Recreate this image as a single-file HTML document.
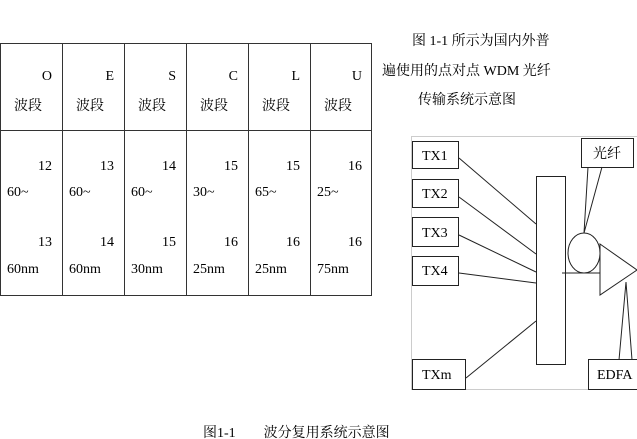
<!DOCTYPE html>
<html><head><meta charset="utf-8"><style>
html,body{margin:0;padding:0;background:#fff;width:637px;height:439px;overflow:hidden}
svg{display:block}
text{font-family:"Liberation Serif","Noto Serif CJK SC","Noto Sans CJK SC",serif;font-size:14px;fill:#000}
</style></head><body>
<svg width="637" height="439" viewBox="0 0 637 439">
<g stroke="#333" stroke-width="1" fill="none">
<rect x="0.5" y="43.5" width="371" height="252"/>
<line x1="0" y1="130.5" x2="372" y2="130.5"/>
<line x1="62.5" y1="43" x2="62.5" y2="295"/>
<line x1="124.5" y1="43" x2="124.5" y2="295"/>
<line x1="186.5" y1="43" x2="186.5" y2="295"/>
<line x1="248.5" y1="43" x2="248.5" y2="295"/>
<line x1="310.5" y1="43" x2="310.5" y2="295"/>
</g>
<g text-anchor="end">
<text x="52" y="80">O</text><text x="114" y="80">E</text><text x="176" y="80">S</text><text x="238" y="80">C</text><text x="300" y="80">L</text><text x="362" y="80">U</text>
<text x="52" y="170">12</text><text x="114" y="170">13</text><text x="176" y="170">14</text><text x="238" y="170">15</text><text x="300" y="170">15</text><text x="362" y="170">16</text>
<text x="52" y="246">13</text><text x="114" y="246">14</text><text x="176" y="246">15</text><text x="238" y="246">16</text><text x="300" y="246">16</text><text x="362" y="246">16</text>
</g>
<g>
<text x="14" y="110">波段</text><text x="76" y="110">波段</text><text x="138" y="110">波段</text><text x="200" y="110">波段</text><text x="262" y="110">波段</text><text x="324" y="110">波段</text>
<text x="7" y="196">60~</text><text x="69" y="196">60~</text><text x="131" y="196">60~</text><text x="193" y="196">30~</text><text x="255" y="196">65~</text><text x="317" y="196">25~</text>
<text x="7" y="273">60nm</text><text x="69" y="273">60nm</text><text x="131" y="273">30nm</text><text x="193" y="273">25nm</text><text x="255" y="273">25nm</text><text x="317" y="273">75nm</text>
</g>
<text x="412" y="45">图 1-1 所示为国内外普</text>
<text x="382" y="75">遍使用的点对点 WDM 光纤</text>
<text x="418" y="104">传输系统示意图</text>
<text x="203" y="437">图1-1　　波分复用系统示意图</text>
<g stroke="#999" stroke-width="1" stroke-dasharray="1,1" fill="none">
<rect x="411.5" y="136.5" width="230" height="253"/>
</g>
<g stroke="#222" stroke-width="1" fill="#fff">
<rect x="412.5" y="141.5" width="46" height="27"/>
<rect x="412.5" y="179.5" width="46" height="28"/>
<rect x="412.5" y="217.5" width="46" height="29"/>
<rect x="412.5" y="256.5" width="46" height="29"/>
<rect x="412.5" y="359.5" width="53" height="30"/>
<rect x="536.5" y="176.5" width="29" height="188"/>
<line x1="459" y1="158" x2="536" y2="224"/>
<line x1="459" y1="197" x2="536" y2="254"/>
<line x1="459" y1="235" x2="536" y2="272"/>
<line x1="459" y1="273" x2="536" y2="283"/>
<line x1="466" y1="378" x2="536" y2="321"/>
<ellipse cx="584" cy="253" rx="16" ry="20"/>
<line x1="562" y1="273" x2="600" y2="273"/>
<polygon points="600,244 637,270 600,295"/>
<rect x="581.5" y="138.5" width="52" height="29"/>
<polyline points="588,167 584,233 602,167" fill="none"/>
<rect x="588.5" y="359.5" width="52" height="30"/>
<polyline points="619,360 626,282 632,360" fill="none"/>
</g>
<text x="422" y="160">TX1</text>
<text x="422" y="198">TX2</text>
<text x="422" y="237">TX3</text>
<text x="422" y="275">TX4</text>
<text x="422" y="379">TXm</text>
<text x="593" y="158">光纤</text>
<text x="597" y="379">EDFA</text>
</svg>
</body></html>
